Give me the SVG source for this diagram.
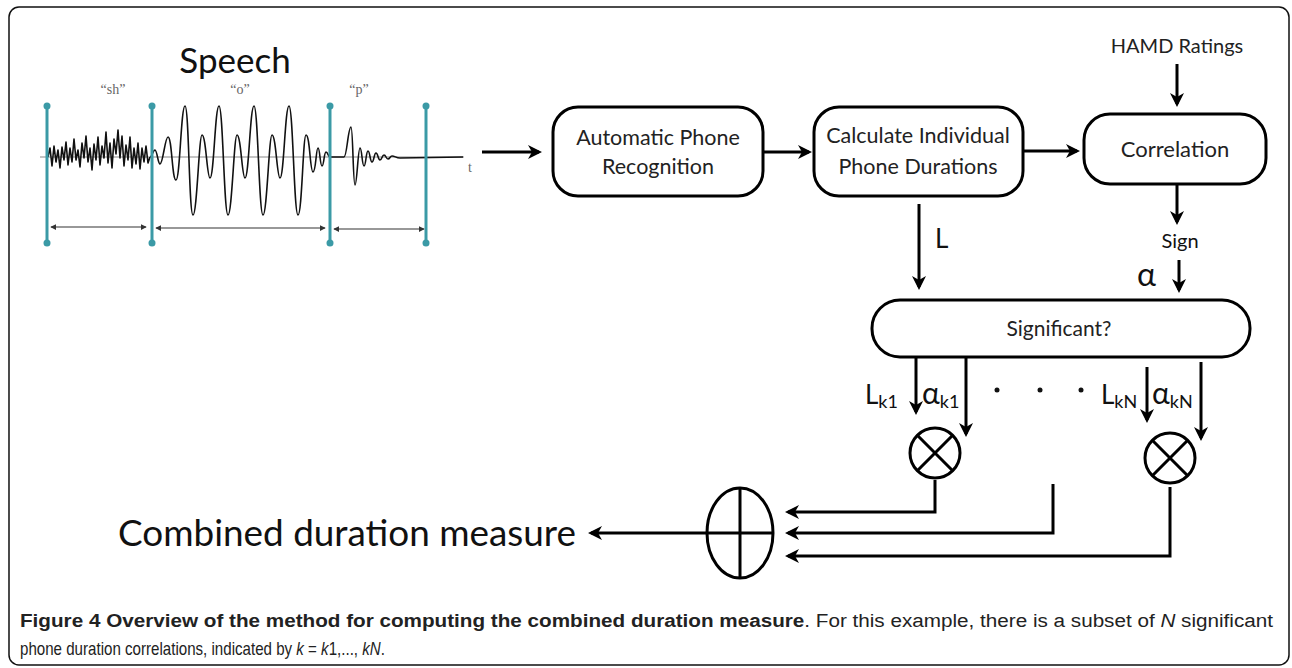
<svg xmlns="http://www.w3.org/2000/svg" width="1292" height="668" viewBox="0 0 1292 668">
<style>
.box{fill:#fff;stroke:#000;stroke-width:3}
.lbl{font-family:Lato,"Open Sans",sans-serif;fill:#222;text-anchor:middle}
.conn{fill:none;stroke:#000;stroke-width:3}
.teal{stroke:#3b9aa6;stroke-width:3}
.dot{fill:#3b9aa6}
.wave{fill:none;stroke:#111;stroke-width:1.6;stroke-linejoin:round}
.thin{stroke:#333;stroke-width:1.2}
.gray{font-family:"Liberation Serif",serif;font-size:14px;fill:#666;text-anchor:middle}
.cap{font-family:"Liberation Sans",sans-serif;font-size:18px;fill:#222}
</style>
<defs>
<marker id="arr" viewBox="0 0 14 14" refX="11" refY="7" markerWidth="14" markerHeight="14" orient="auto" markerUnits="userSpaceOnUse">
<path d="M0,0 L14,7 L0,14 L4,7 z" fill="#000"/>
</marker>
<marker id="sm" viewBox="0 0 8 8" refX="7" refY="4" markerWidth="6" markerHeight="6" orient="auto-start-reverse" markerUnits="userSpaceOnUse">
<path d="M0,0 L8,4 L0,8 z" fill="#333"/>
</marker>
</defs>
<rect x="9" y="7" width="1280" height="658" rx="10" fill="#fff" stroke="#111" stroke-width="1.5"/>

<g id="speech">
<text x="235" y="73" font-family="Lato,sans-serif" font-size="35" fill="#111" text-anchor="middle">Speech</text>
<line x1="40" y1="157" x2="464" y2="157" stroke="#888" stroke-width="1.2"/>
<text x="470" y="172" class="gray">t</text>
<text x="113" y="94" class="gray">“sh”</text>
<text x="240" y="94" class="gray">“o”</text>
<text x="359" y="94" class="gray">“p”</text>
<polyline class="wave" points="48,157 50,148 52,166 54,146 56,162 58,150 60,168 62,147 64,160 66,142 68,165 70,148 72,162 74,139 76,160 78,150 80,167 82,143 84,158 86,136 88,162 90,148 92,170 94,144 96,160 98,137 100,165 102,146 104,158 106,132 108,163 110,143 112,168 114,139 116,154 118,130 120,158 122,136 124,166 126,145 128,160 130,137 132,168 134,148 136,164 138,143 140,169 142,148 144,162 146,146 148,163 150,157"/>
<path class="wave" d="M150,157 C152,157 153,150 155,150 C157,150 158,164 160,164 C163,164 165,137 168,137 C172,137 172,180 176,180 C180,180 181,106 185,106 C189,106 189,215 193,215 C197,215 199,135 202,135 C206,135 207,178 210,178 C214,178 215,106 219,106 C223,106 224,215 228,215 C232,215 234,135 237,135 C241,135 242,178 245,178 C249,178 250,106 254,106 C258,106 259,215 263,215 C267,215 269,135 272,135 C276,135 277,178 280,178 C284,178 285,106 289,106 C293,106 294,215 298,215 C302,215 303,135 306,135 C310,135 310,172 313,172 C316,172 316,148 318,148 C320,148 320,166 322,166 C324,166 324,152 326,152 C328,152 328,157 330,157"/>
<path class="wave" d="M330,157 L344,157 C347,157 348,127 351,127 C353,127 353,185 355,185 C357,185 358,148 360,148 C362,148 362,166 364,166 C366,166 366,151 368,151 C370,151 370,162 372,162 C374,162 374,153 376,153 C378,153 378,160 380,160 C382,160 382,155 384,155 C386,155 386,159 388,159 C390,159 390,156 392,156 C395,156 396,158 400,158 L463,157"/>
<g>
<line class="teal" x1="47" y1="106" x2="47" y2="243"/>
<line class="teal" x1="152" y1="106" x2="152" y2="243"/>
<line class="teal" x1="330" y1="106" x2="330" y2="243"/>
<line class="teal" x1="426" y1="106" x2="426" y2="243"/>
<circle class="dot" cx="47" cy="106" r="3.5"/><circle class="dot" cx="47" cy="243" r="3.5"/>
<circle class="dot" cx="152" cy="106" r="3.5"/><circle class="dot" cx="152" cy="243" r="3.5"/>
<circle class="dot" cx="330" cy="106" r="3.5"/><circle class="dot" cx="330" cy="243" r="3.5"/>
<circle class="dot" cx="426" cy="106" r="3.5"/><circle class="dot" cx="426" cy="243" r="3.5"/>
</g>
<line class="thin" x1="51" y1="227" x2="146" y2="227" marker-start="url(#sm)" marker-end="url(#sm)"/>
<line class="thin" x1="156" y1="228" x2="325" y2="228" marker-start="url(#sm)" marker-end="url(#sm)"/>
<line class="thin" x1="334" y1="229" x2="424" y2="229" marker-start="url(#sm)" marker-end="url(#sm)"/>
</g>

<g id="recognition">
<rect class="box" x="553" y="107" width="210" height="89" rx="25"/>
<text class="lbl" x="658" y="145" font-size="21.5">Automatic Phone</text>
<text class="lbl" x="658" y="174" font-size="21.5">Recognition</text>
</g>
<g id="durations">
<rect class="box" x="814" y="107" width="209" height="89" rx="25"/>
<text class="lbl" x="918" y="143" font-size="21.5">Calculate Individual</text>
<text class="lbl" x="918" y="174" font-size="21.5">Phone Durations</text>
</g>
<g id="correlation">
<rect class="box" x="1084" y="114" width="182" height="70" rx="26"/>
<text class="lbl" x="1175" y="157" font-size="22">Correlation</text>
</g>
<g id="hamd">
<text class="lbl" x="1177" y="53" font-size="20">HAMD Ratings</text>
</g>
<g id="significant">
<rect class="box" x="872" y="300" width="378" height="57" rx="28"/>
<text class="lbl" x="1059" y="336" font-size="21">Significant?</text>
</g>
<g id="mult1">
<circle cx="935" cy="453" r="25" fill="#fff" stroke="#000" stroke-width="3"/>
<path d="M917.3,435.3 L952.7,470.7 M952.7,435.3 L917.3,470.7" stroke="#000" stroke-width="3"/>
</g>
<g id="multN">
<circle cx="1170" cy="458" r="25" fill="#fff" stroke="#000" stroke-width="3"/>
<path d="M1152.3,440.3 L1187.7,475.7 M1187.7,440.3 L1152.3,475.7" stroke="#000" stroke-width="3"/>
</g>
<g id="sum">
<ellipse cx="740" cy="533" rx="33" ry="45" fill="#fff" stroke="#000" stroke-width="3"/>
<path d="M740,488 V578 M707,533 H773" stroke="#000" stroke-width="3"/>
</g>
<g id="output">
<text x="118" y="546" font-family="Lato,sans-serif" font-size="36" fill="#111" textLength="458" lengthAdjust="spacingAndGlyphs">Combined duration measure</text>
</g>

<g id="labels" font-family="Lato,sans-serif" fill="#111">
<text x="935" y="248" font-size="26">L</text>
<text x="1180" y="248" font-size="20" text-anchor="middle">Sign</text>
<text x="1137" y="286" font-size="32">α</text>
<text x="865" y="404" font-size="26">L<tspan font-size="18" dy="4">k1</tspan></text>
<text x="922" y="404" font-size="30">α<tspan font-size="18" dy="4">k1</tspan></text>
<text x="1101" y="404" font-size="26">L<tspan font-size="18" dy="4">kN</tspan></text>
<text x="1152" y="404" font-size="30">α<tspan font-size="18" dy="4">kN</tspan></text>
<circle cx="997" cy="390" r="2.5"/>
<circle cx="1040" cy="390" r="2.5"/>
<circle cx="1081" cy="390" r="2.5"/>
</g>

<g id="connectors" class="conn">
<line x1="482" y1="152" x2="539" y2="152" marker-end="url(#arr)"/>
<line x1="763" y1="152" x2="809" y2="152" marker-end="url(#arr)"/>
<line x1="1023" y1="151" x2="1077" y2="151" marker-end="url(#arr)"/>
<line x1="1177" y1="64" x2="1177" y2="104" marker-end="url(#arr)"/>
<line x1="1177" y1="184" x2="1177" y2="222" marker-end="url(#arr)"/>
<line x1="919" y1="204" x2="919" y2="287" marker-end="url(#arr)"/>
<line x1="1179" y1="260" x2="1179" y2="290" marker-end="url(#arr)"/>
<line x1="916" y1="357" x2="916" y2="412" marker-end="url(#arr)"/>
<line x1="966" y1="358" x2="966" y2="434" marker-end="url(#arr)"/>
<line x1="1147" y1="367" x2="1147" y2="420" marker-end="url(#arr)"/>
<line x1="1201" y1="362" x2="1201" y2="438" marker-end="url(#arr)"/>
<path d="M935,480 V512 H788" marker-end="url(#arr)"/>
<path d="M1053,484 V533 H788" marker-end="url(#arr)"/>
<path d="M1170,487 V556 H788" marker-end="url(#arr)"/>
<line x1="706" y1="533" x2="591" y2="533" marker-end="url(#arr)"/>
</g>

<g id="caption">
<text class="cap" x="20" y="627" textLength="1253" lengthAdjust="spacingAndGlyphs"><tspan font-weight="bold">Figure 4 Overview of the method for computing the combined duration measure</tspan>. For this example, there is a subset of <tspan font-style="italic">N</tspan> significant</text>
<text class="cap" transform="translate(20,655) scale(0.84,1)" x="0" y="0">phone duration correlations, indicated by <tspan font-style="italic">k</tspan> = <tspan font-style="italic">k</tspan>1,..., <tspan font-style="italic">kN</tspan>.</text>
</g>
</svg>
